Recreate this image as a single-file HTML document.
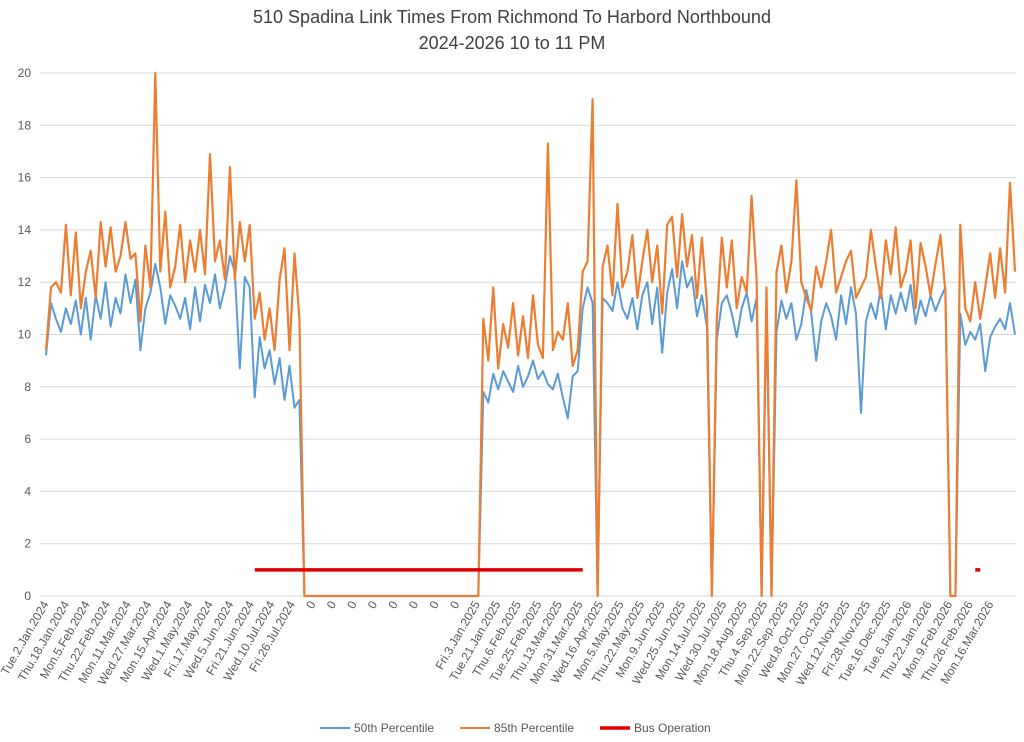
<!DOCTYPE html>
<html><head><meta charset="utf-8"><style>
body{margin:0;background:#fff;}
svg{display:block;font-family:"Liberation Sans",Arial,sans-serif;}
</style></head><body>
<svg id="chart" width="1024" height="742">
<text x="512" y="23" text-anchor="middle" font-size="18" fill="#404040">510 Spadina Link Times From Richmond To Harbord Northbound</text>
<text x="512" y="49" text-anchor="middle" font-size="18" fill="#404040">2024-2026 10 to 11 PM</text>
<g id="grid"></g>
<g id="ylabels"></g>
<g id="xlabels"></g>
<g id="series"></g>
<g>
<line x1="320" y1="728" x2="350" y2="728" stroke="#5B9BD5" stroke-width="2"/>
<text x="354" y="732" font-size="12" fill="#595959">50th Percentile</text>
<line x1="460" y1="728" x2="490" y2="728" stroke="#ED7D31" stroke-width="2"/>
<text x="494" y="732" font-size="12" fill="#595959">85th Percentile</text>
<line x1="600" y1="728" x2="630" y2="728" stroke="#E00000" stroke-width="3.5"/>
<text x="634" y="732" font-size="12" fill="#595959">Bus Operation</text>
</g>
</svg>
<script>
const p50Seg1 = [9.2,11.2,10.6,10.1,11.0,10.4,11.3,10.0,11.4,9.8,11.5,10.6,12.0,10.3,11.4,10.8,12.3,11.2,12.1,9.4,11.0,11.6,12.7,11.8,10.4,11.5,11.1,10.6,11.4,10.2,11.8,10.5,11.9,11.2,12.3,11.0,11.8,13.0,12.4,8.7,12.2,11.8,7.6,9.9,8.7,9.4,8.1,9.1,7.5,8.8,7.2,7.5];
const p85Seg1 = [9.4,11.8,12.0,11.6,14.2,11.5,13.9,11.0,12.4,13.2,11.4,14.3,12.6,14.1,12.4,13.0,14.3,12.9,13.1,10.5,13.4,11.8,20.0,12.4,14.7,11.8,12.6,14.2,12.0,13.6,12.4,14.0,12.3,16.9,12.8,13.6,12.1,16.4,12.1,14.3,12.8,14.2,10.6,11.6,9.8,11.0,9.4,12.1,13.3,9.4,13.1,10.6];
const gapZeros = [0,0,0,0,0,0,0,0,0,0,0,0,0,0,0,0,0,0,0,0,0,0,0,0,0,0,0,0,0,0,0,0,0,0,0,0];
const p50Seg2 = [7.8,7.4,8.5,7.9,8.6,8.2,7.8,8.8,8.0,8.4,9.0,8.3,
 8.6,8.1,7.9,8.5,7.6,6.8,8.4,8.6,11.0,11.8,11.2,
 0,
 11.4,11.2,10.9,12.0,11.0,10.6,11.4,10.2,11.5,12.0,10.4,11.8,9.3,11.6,12.5,11.0,12.8,11.8,12.2,10.7,11.5,10.3,
 0,9.8,
 11.2,11.5,10.8,9.9,11.0,11.6,10.5,11.4,
 0,11.0,0,
 10.1,11.3,10.6,11.2,9.8,10.4,11.7,10.8,9.0,10.5,11.2,10.7,9.8,11.5,10.4,11.8,10.8,7.0,10.5,11.2,10.6,11.8,10.2,11.5,10.8,11.6,10.9,11.9,10.4,11.3,10.7,11.5,10.9,11.4,11.8,
 0,0,
 10.8,9.6,10.1,9.8,10.4,8.6,9.9,10.3,10.6,10.2,11.2,10.0];
const p85Seg2 = [10.6,9.0,11.8,8.7,10.4,9.5,11.2,9.2,10.7,9.1,11.5,9.6,
 9.1,17.3,9.4,10.1,9.8,11.2,8.8,9.4,12.4,12.8,19.0,
 0,
 12.6,13.4,11.5,15.0,11.8,12.4,13.8,11.4,12.8,14.0,12.0,13.4,10.8,14.2,14.5,12.2,14.6,12.6,13.8,11.4,13.7,11.2,
 0,10.6,
 13.7,11.8,13.6,11.0,12.2,11.6,15.3,12.1,
 0,11.8,0,
 12.4,13.4,11.6,12.8,15.9,12.0,11.4,10.9,12.6,11.8,12.8,14.0,11.6,12.2,12.8,13.2,11.4,11.8,12.2,14.0,12.6,11.4,13.6,12.3,14.1,11.8,12.4,13.6,11.0,13.5,12.6,11.5,12.7,13.8,11.6,
 0,0,
 14.2,11.0,10.5,12.0,10.6,11.8,13.1,11.4,13.3,11.6,15.8,12.4];
const busOpRanges = [[42,108],[187,188]];
const busOpValue = 1;
const xLabels = ["Tue.2.Jan.2024","Thu.18.Jan.2024","Mon.5.Feb.2024","Thu.22.Feb.2024","Mon.11.Mar.2024","Wed.27.Mar.2024","Mon.15.Apr.2024","Wed.1.May.2024","Fri.17.May.2024","Wed.5.Jun.2024","Fri.21.Jun.2024","Wed.10.Jul.2024","Fri.26.Jul.2024","0","0","0","0","0","0","0","0","Fri.3.Jan.2025","Tue.21.Jan.2025","Thu.6.Feb.2025","Tue.25.Feb.2025","Thu.13.Mar.2025","Mon.31.Mar.2025","Wed.16.Apr.2025","Mon.5.May.2025","Thu.22.May.2025","Mon.9.Jun.2025","Wed.25.Jun.2025","Mon.14.Jul.2025","Wed.30.Jul.2025","Mon.18.Aug.2025","Thu.4.Sep.2025","Mon.22.Sep.2025","Wed.8.Oct.2025","Mon.27.Oct.2025","Wed.12.Nov.2025","Fri.28.Nov.2025","Tue.16.Dec.2025","Tue.6.Jan.2026","Thu.22.Jan.2026","Mon.9.Feb.2026","Thu.26.Feb.2026","Mon.16.Mar.2026"];
const yTicks = [0,2,4,6,8,10,12,14,16,18,20];

const p50 = p50Seg1.concat(gapZeros, p50Seg2);
const p85 = p85Seg1.concat(gapZeros, p85Seg2);
const N = p50.length;
const NS = 'http://www.w3.org/2000/svg';
const X0 = 46, Y0 = 596, YTOP = 73, LEFT = 40, RIGHT = 1016;
const STEP = 969/(N-1);
const labelEvery = 20.54/STEP;
function xs(i){ return X0 + i*STEP; }
function ys(v){ return Y0 - (v/20)*(Y0-YTOP); }
function mk(tag, attrs, parent){ const e=document.createElementNS(NS,tag); for(const k in attrs) e.setAttribute(k,attrs[k]); parent.appendChild(e); return e; }

const grid=document.getElementById('grid'), yl=document.getElementById('ylabels'), xl=document.getElementById('xlabels'), ser=document.getElementById('series');
yTicks.forEach(t=>{
  const l=mk('line',{x1:LEFT,x2:RIGHT,y1:ys(t),y2:ys(t),stroke:'#d9d9d9','stroke-width':1},grid);
  
  
  const tx=mk('text',{x:31,y:ys(t)+4,'text-anchor':'end','font-size':12,fill:'#595959'},yl);
  tx.textContent=t;
  
  
});
xLabels.forEach((s,k)=>{
  const x=xs(k*labelEvery)+3, y=604;
  const tx=mk('text',{x:x,y:y,'text-anchor':'end','font-size':12,fill:'#595959',transform:`rotate(-60 ${x} ${y})`},xl);
  tx.textContent=s;
  
  
});
function path(arr){ return arr.map((v,i)=>(i?'L':'M')+xs(i).toFixed(1)+' '+ys(v).toFixed(1)).join(''); }
const b=mk('path',{d:path(p50),fill:'none',stroke:'#5B9BD5','stroke-width':2,'stroke-linejoin':'round'},ser);


const o=mk('path',{d:path(p85),fill:'none',stroke:'#ED7D31','stroke-width':2.2,'stroke-linejoin':'round'},ser);


busOpRanges.forEach(r=>{
  const l=mk('line',{x1:xs(r[0]),x2:xs(r[1]),y1:ys(busOpValue),y2:ys(busOpValue),stroke:'#E00000','stroke-width':3.5},ser);
  
  
});
</script>
</body></html>
